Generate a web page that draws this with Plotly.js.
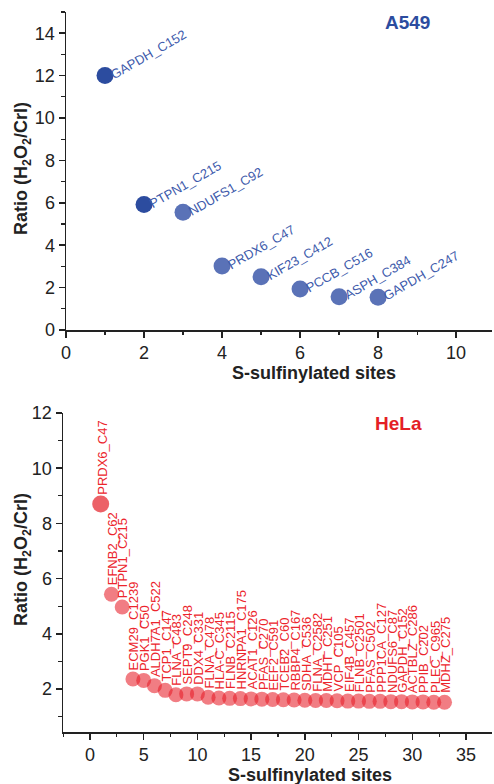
<!DOCTYPE html>
<html>
<head>
<meta charset="utf-8">
<script src="https://cdn.plot.ly/plotly-3.0.1.min.js"></script>
<style>html,body{margin:0;padding:0;background:#fff}#chart{width:494px;height:784px}</style>
</head>
<body>
<div id="chart"></div>
<script>
// A549 panel
const a549Sites = [1, 2, 3, 4, 5, 6, 7, 8];
const a549Ratio = [12.0, 5.92, 5.55, 3.02, 2.51, 1.93, 1.57, 1.54];
const a549Labels = ["GAPDH_C152", "PTPN1_C215", "NDUFS1_C92", "PRDX6_C47", "KIF23_C412", "PCCB_C516", "ASPH_C384", "GAPDH_C247"];

// HeLa panel
const helaSites = [1,2,3,4,5,6,7,8,9,10,11,12,13,14,15,16,17,18,19,20,21,22,23,24,25,26,27,28,29,30,31,32,33];
const helaRatio = [8.70, 5.43, 4.97, 2.36, 2.31, 2.12, 1.95, 1.79, 1.82, 1.82, 1.70, 1.67, 1.66, 1.65, 1.64, 1.63, 1.62, 1.61, 1.60, 1.59, 1.58, 1.58, 1.57, 1.56, 1.56, 1.55, 1.55, 1.54, 1.54, 1.53, 1.53, 1.52, 1.52];
const helaLabels = ["PRDX6_C47", "EFNB2_C62", "PTPN1_C215", "ECM29_C1239", "PGK1_C50", "ALDH7A1_C522", "TCP1_C147", "FLNA_C483", "SEPT9_C248", "DDX4_C331", "FLNA_C478", "HLA-C_C345", "FLNB_C2115", "HNRNPA1_C175", "ACAT1_C126", "PFAS_C270", "EEF2_C591", "TCEB2_C60", "RBBP4_C167", "SDHA_C536", "FLNA_C2582", "MDHT_C251", "VCP_C105", "EIF4B_C457", "FLNB_C2501", "PFAS_C502", "PPP1CA_C127", "NDUFS6_C87", "GAPDH_C152", "ACTBLZ_C286", "PPIB_C202", "PLEC_C965", "MDHZ_C275"];

const blueDark = "#2c4c9f", blueLight = "#5a72b7", blueText = "#3d5aab";
const redDark = "#e41e26", redLight = "rgba(230,28,38,0.82)", redText = "#ec252c";
const FONT = "Liberation Sans, Arial, sans-serif";

const traces = [
  {
    x: a549Sites, y: a549Ratio, type: "scatter", mode: "markers",
    xaxis: "x", yaxis: "y",
    marker: {size: 17, line: {width: 0}, color: a549Sites.map((s, i) => i < 2 ? blueDark : blueLight)},
    hoverinfo: "skip"
  },
  {
    x: helaSites, y: helaRatio, type: "scatter", mode: "markers",
    xaxis: "x2", yaxis: "y2",
    marker: {size: helaSites.map((s, i) => i === 0 ? 17 : 15), line: {width: 0}, color: helaSites.map((s, i) => i === 0 ? redDark : redLight)},
    hoverinfo: "skip"
  }
];

const annotations = [];
a549Labels.forEach((t, i) => {
  annotations.push({
    x: a549Sites[i], y: a549Ratio[i], xref: "x", yref: "y",
    text: t, showarrow: false, textangle: -30,
    xanchor: "left", yanchor: "bottom", xshift: 0, yshift: -9,
    font: {family: FONT, size: 13, color: blueText}
  });
});
helaLabels.forEach((t, i) => {
  annotations.push({
    x: helaSites[i], y: helaRatio[i], xref: "x2", yref: "y2",
    text: t, showarrow: false, textangle: -90,
    xanchor: "center", yanchor: "bottom", xshift: 1, yshift: 7,
    font: {family: FONT, size: 13, color: redText}
  });
});
// Panel names
annotations.push({x: 407, y: 23, xref: "paper", yref: "paper", text: "<b>A549</b>", showarrow: false,
  font: {family: FONT, size: 19, color: blueDark}});
annotations.push({x: 398, y: 423, xref: "paper", yref: "paper", text: "<b>HeLa</b>", showarrow: false,
  font: {family: FONT, size: 19, color: redDark}});
// Axis titles
const titleFont = {family: FONT, size: 18, color: "#222"};
annotations.push({x: 314, y: 373, text: "<b>S-sulfinylated sites</b>", showarrow: false, font: titleFont});
annotations.push({x: 310, y: 775, text: "<b>S-sulfinylated sites</b>", showarrow: false, font: titleFont});
annotations.push({x: 22, y: 169, text: "<b>Ratio (H<sub>2</sub>O<sub>2</sub>/Crl)</b>", showarrow: false, textangle: -90, font: titleFont});
annotations.push({x: 22, y: 560, text: "<b>Ratio (H<sub>2</sub>O<sub>2</sub>/Crl)</b>", showarrow: false, textangle: -90, font: titleFont});

// convert pixel-positioned paper annotations
const W = 494, H = 784;
annotations.forEach(a => {
  if (a.xref === undefined || a.xref === "paper") {
    a.xref = "paper"; a.yref = "paper"; a.x = a.x / W; a.y = 1 - a.y / H; a.xanchor = "center"; a.yanchor = "middle";
  }
});

const axisCommon = {
  showgrid: false, zeroline: false, showline: true, linecolor: "#222", linewidth: 1.5,
  ticks: "outside", ticklen: 6, tickwidth: 1.5, tickcolor: "#222",
  tickfont: {family: FONT, size: 18, color: "#222"},
  minor: {ticks: "outside", ticklen: 3.5, tickwidth: 1.2, tickcolor: "#222"}
};

const layout = {
  width: W, height: H,
  margin: {l: 0, r: 0, t: 0, b: 0},
  paper_bgcolor: "#fff", plot_bgcolor: "#fff",
  showlegend: false,
  font: {family: FONT},
  xaxis: Object.assign({}, axisCommon, {domain: [66 / W, 492 / W], anchor: "y", range: [0, 10.92], tickmode: "linear", tick0: 0, dtick: 2,
    minor: Object.assign({}, axisCommon.minor, {dtick: 1})}),
  yaxis: Object.assign({}, axisCommon, {domain: [1 - 330 / H, 1 - 12 / H], anchor: "x", range: [0, 15], tickmode: "linear", tick0: 0, dtick: 2,
    minor: Object.assign({}, axisCommon.minor, {dtick: 1})}),
  xaxis2: Object.assign({}, axisCommon, {domain: [63 / W, 492 / W], anchor: "y2", range: [-2.51, 37.42], tickmode: "linear", tick0: 0, dtick: 5,
    minor: Object.assign({}, axisCommon.minor, {dtick: 2.5})}),
  yaxis2: Object.assign({}, axisCommon, {domain: [1 - 732 / H, 1 - 413 / H], anchor: "x2", range: [0.44, 12], tickmode: "linear", tick0: 0, dtick: 2,
    minor: Object.assign({}, axisCommon.minor, {dtick: 1})}),
  annotations: annotations
};

Plotly.newPlot("chart", traces, layout, {staticPlot: true, displayModeBar: false});
</script>
</body>
</html>
